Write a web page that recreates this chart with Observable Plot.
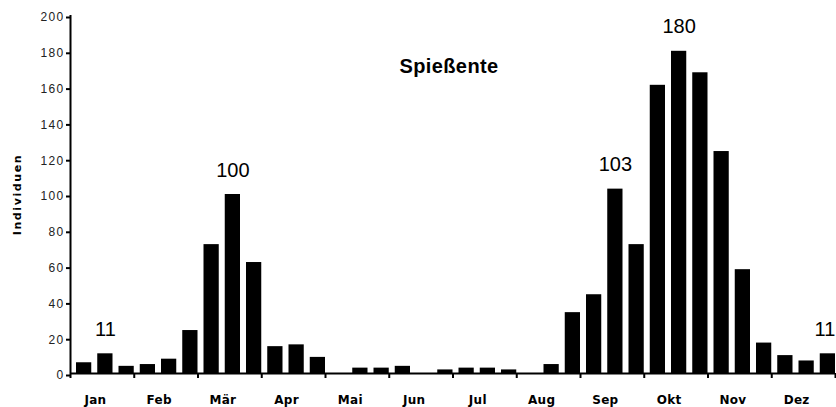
<!DOCTYPE html>
<html><head><meta charset="utf-8">
<script src="https://cdn.jsdelivr.net/npm/d3@7"></script>
<script src="https://cdn.jsdelivr.net/npm/@observablehq/plot@0.6"></script>
<style>
body{margin:0;background:#fff}
.ytk text{letter-spacing:1.3px;fill:#222}
.ylab text{letter-spacing:1.6px}
.xlab text{letter-spacing:0.3px}
.ttl text{letter-spacing:0.4px}
</style></head><body><div id="chart"></div>
<script>
const months = ["Jan","Feb","Mär","Apr","Mai","Jun","Jul","Aug","Sep","Okt","Nov","Dez"];
const counts = [6,11,4, 5,8,24, 72,100,62, 15,16,9, 0,3,3, 4,0,2, 3,3,2, 0,5,34, 44,103,72, 161,180,168, 124,58,17, 10,7,11];
const peakIdx = [1,7,25,28];
const lastPeakIdx = [35];
const title = "Spießente";
const yLabel = "Individuen";
const yTicks = [0,20,40,60,80,100,120,140,160,180,200];

const data = counts.map((v,i)=>({i, v}));
const peaks = peakIdx.map(i=>data[i]);
const lastPeaks = lastPeakIdx.map(i=>data[i]);
const monthBounds = d3.range(0, months.length*3+1, 3);
const monthCenters = months.map((m,k)=>k*3+1.5);

const peakOpts = {x: d => d.i + 0.5, y: "v", text: d => String(d.v), dy: -18, lineAnchor: "bottom", fontSize: 20};

const chart = Plot.plot({
  width: 836, height: 407,
  marginLeft: 70, marginRight: 1, marginTop: 15, marginBottom: 34,
  style: {fontFamily: "'Liberation Sans', Arial, sans-serif", background: "#fff", overflow: "visible", color: "#000"},
  x: {domain: [0, 36], axis: null},
  y: {domain: [0, 200], axis: null},
  marks: [
    Plot.rectY(data, {x: "i", interval: 1, y: "v", fill: "#000", insetLeft: 6, insetRight: 0}),
    Plot.ruleY([0], {strokeWidth: 2}),
    Plot.ruleX([0], {y1: 0, y2: 200, strokeWidth: 2}),
    Plot.axisY(yTicks, {tickSize: 4, tickPadding: 2, fontSize: 12, strokeWidth: 2, dy: 2, label: null, className: "ytk"}),
    Plot.axisX(monthBounds, {tickSize: 5, tickFormat: () => "", strokeWidth: 2, label: null}),
    Plot.axisX(monthCenters, {tickSize: 0, tickPadding: 22, tickFormat: d => months[Math.round((d-1.5)/3)], fontSize: 12, fontWeight: "bold", fontFamily: "'DejaVu Sans', sans-serif", dx: -7, label: null, className: "xlab"}),
    Plot.text([yLabel], {frameAnchor: "left", textAnchor: "middle", dx: -53, rotate: -90, fontSize: 11, fontWeight: "bold", fontFamily: "'DejaVu Sans', sans-serif", className: "ylab"}),
    Plot.text([title], {frameAnchor: "top", dx: -4, dy: 57, lineAnchor: "bottom", fontSize: 20, fontWeight: "bold", className: "ttl"}),
    Plot.text(peaks, {...peakOpts, dx: 3}),
    Plot.text(lastPeaks, {...peakOpts, dx: 0})
  ]
});
document.getElementById("chart").appendChild(chart);
</script></body></html>
